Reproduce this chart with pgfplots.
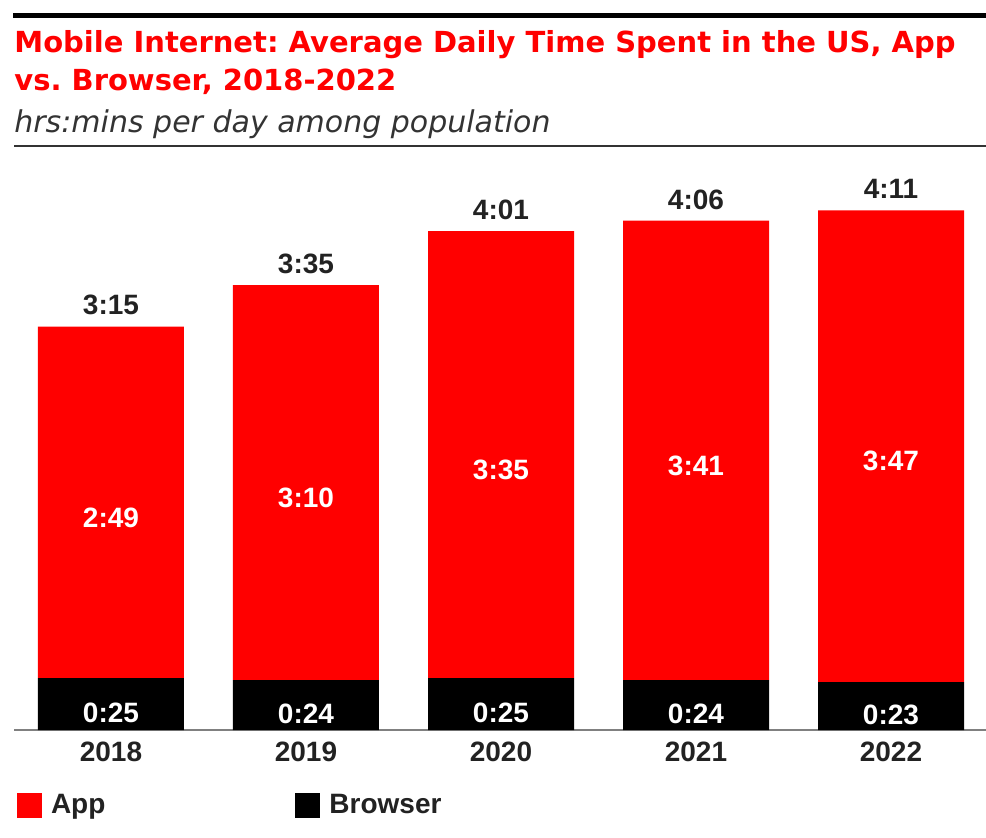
\documentclass[border=0pt]{standalone}
\usepackage{pgfplots}
\pgfplotsset{compat=1.18}
\usepackage{pgfplotstable}
\usepackage{fontspec}
\setmainfont{Liberation Sans}
\newfontfamily\titlefont{DejaVu Sans}
\frenchspacing
\definecolor{emred}{HTML}{FF0000}
\definecolor{txt}{HTML}{222222}
\definecolor{sub}{HTML}{333333}

\pgfplotstableread{
x browser app
0 25 169
1 24 190
2 25 215
3 24 221
4 23 227
}\datatable

\pgfplotstableread{
x y lab
0 194 3:15
1 214 3:35
2 240 4:01
3 245 4:06
4 250 4:11
}\totals

\pgfplotstableread{
x y lab
0 109.5 2:49
1 119.0 3:10
2 132.5 3:35
3 134.5 3:41
4 136.5 3:47
}\applab

\pgfplotstableread{
x y lab
0 12.5 0:25
1 12.0 0:24
2 12.5 0:25
3 12.0 0:24
4 11.5 0:23
}\browlab

\pgfplotsset{base/.style={scale only axis, width=486pt, height=290pt,
  xmin=-0.4974, xmax=4.4872, ymin=0, ymax=279,
  at={(7pt,-365pt)}, anchor=south west, clip=false}}

\newcommand{\lblfont}{\bfseries\fontsize{14}{16}\selectfont}

\begin{document}
\begin{tikzpicture}
\useasboundingbox (0pt,0pt) rectangle (493pt,-418.5pt);
\draw[line width=2.5pt, black] (6.5pt,-7.75pt) -- (493pt,-7.75pt);
\node[anchor=base west, inner sep=0pt, text=emred, font=\titlefont\bfseries\fontsize{14.5}{18}\selectfont] at (7pt,-26pt) {Mobile Internet: Average Daily Time Spent in the US, App};
\node[anchor=base west, inner sep=0pt, text=emred, font=\titlefont\bfseries\fontsize{14.5}{18}\selectfont] at (7pt,-45pt) {vs. Browser, 2018-2022};
\node[anchor=base west, inner sep=0pt, text=sub, font=\titlefont\itshape\fontsize{15}{17}\selectfont] at (7pt,-66.3pt) {hrs:mins per day among population};
\draw[line width=1pt, sub] (7pt,-72.75pt) -- (493pt,-72.75pt);

\begin{axis}[base, ybar stacked, bar width=73pt,
  axis x line*=bottom, axis y line=none,
  x axis line style={draw=gray, line width=0.75pt},
  xtick={0,1,2,3,4}, xticklabels={2018,2019,2020,2021,2022},
  major tick length=0pt, ytick=\empty,
  xticklabel style={font=\lblfont, text=txt, inner sep=0pt, yshift=-6pt},
  reverse legend, legend columns=2,
  legend image code/.code={\fill[#1] (0pt,-6.25pt) rectangle (12.5pt,6.25pt);},
  legend style={at={(0.0031,-0.1293)}, anchor=west, draw=none, fill=none,
    inner sep=0pt, outer sep=0pt,
    nodes={inner sep=0pt, font=\lblfont, text=txt},
    /tikz/every odd column/.append style={column sep=4.5pt},
    /tikz/every even column/.append style={column sep=95pt}},
]
\addplot[fill=black, draw=none] table[x=x,y=browser]{\datatable};
\addplot[fill=emred, draw=none] table[x=x,y=app]{\datatable};
\legend{Browser, App}
\end{axis}

\begin{axis}[base, hide axis]
\addplot[only marks, mark=none, nodes near coords, point meta=explicit symbolic,
  nodes near coords style={font=\lblfont, text=txt, anchor=south, inner sep=0pt, yshift=5.5pt}]
  table[x=x,y=y,meta=lab]{\totals};
\addplot[only marks, mark=none, nodes near coords, point meta=explicit symbolic,
  nodes near coords style={font=\lblfont, text=white, anchor=center, inner sep=0pt, yshift=-7.5pt}]
  table[x=x,y=y,meta=lab]{\applab};
\addplot[only marks, mark=none, nodes near coords, point meta=explicit symbolic,
  nodes near coords style={font=\lblfont, text=white, anchor=center, inner sep=0pt, yshift=-4.25pt}]
  table[x=x,y=y,meta=lab]{\browlab};
\end{axis}
\end{tikzpicture}
\end{document}
